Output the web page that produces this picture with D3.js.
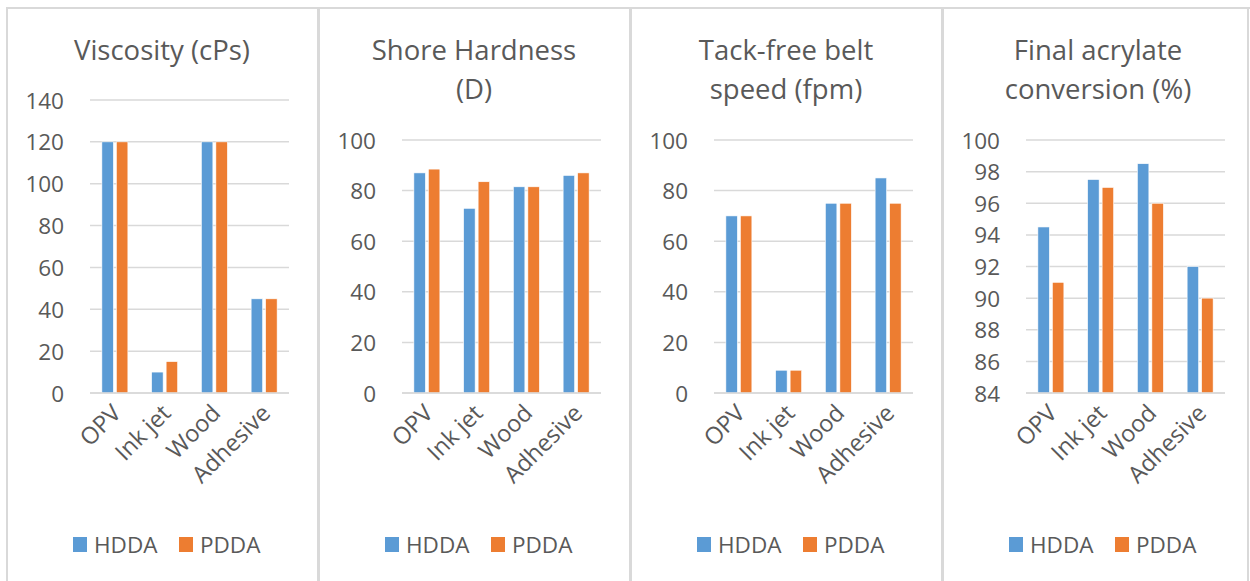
<!DOCTYPE html>
<html>
<head>
<meta charset="utf-8">
<script src="https://cdn.jsdelivr.net/npm/d3@7"></script>
<style>
  html, body { margin: 0; padding: 0; background: #ffffff; }
  svg { display: block; font-family: "Open Sans", "Noto Sans", sans-serif; }
</style>
</head>
<body>
<svg id="chart" width="1250" height="581"></svg>
<script>
// Formulation categories shared by all four panels
const categories = ["OPV", "Ink jet", "Wood", "Adhesive"];
const seriesNames = ["HDDA", "PDDA"];

// Viscosity (cPs)
const viscosityHDDA = [120, 10, 120, 45];
const viscosityPDDA = [120, 15, 120, 45];

// Shore hardness (D)
const hardnessHDDA = [87, 73, 81.5, 86];
const hardnessPDDA = [88.5, 83.5, 81.5, 87];

// Tack-free belt speed (fpm)
const speedHDDA = [70, 9, 75, 85];
const speedPDDA = [70, 9, 75, 75];

// Final acrylate conversion (%)
const conversionHDDA = [94.5, 97.5, 98.5, 92];
const conversionPDDA = [91, 97, 96, 90];

// Axis ticks per panel
const viscosityTicks = [0, 20, 40, 60, 80, 100, 120, 140];
const hardnessTicks = [0, 20, 40, 60, 80, 100];
const speedTicks = [0, 20, 40, 60, 80, 100];
const conversionTicks = [84, 86, 88, 90, 92, 94, 96, 98, 100];

const panels = [
  { title: ["Viscosity (cPs)"], hdda: viscosityHDDA, pdda: viscosityPDDA, ticks: viscosityTicks, top: 100 },
  { title: ["Shore Hardness", "(D)"], hdda: hardnessHDDA, pdda: hardnessPDDA, ticks: hardnessTicks, top: 140 },
  { title: ["Tack-free belt", "speed (fpm)"], hdda: speedHDDA, pdda: speedPDDA, ticks: speedTicks, top: 140 },
  { title: ["Final acrylate", "conversion (%)"], hdda: conversionHDDA, pdda: conversionPDDA, ticks: conversionTicks, top: 140 }
];

const colors = { HDDA: "#5B9BD5", PDDA: "#ED7D31" };
const textColor = "#595959";
const gridColor = "#d9d9d9";
const borderColor = "#d9d9d9";

const svg = d3.select("#chart");

const panelWidth = 312;
const panelLeft = 7;
const plotOffset = 83;      // from panel left edge to plot area
const plotWidth = 199;
const plotBottom = 393;

// Panel frames: top rule and vertical separators
svg.append("line")
  .attr("x1", panelLeft).attr("x2", 1250)
  .attr("y1", 8).attr("y2", 8)
  .attr("stroke", borderColor).attr("stroke-width", 2);

d3.range(5).forEach(i => {
  const x = i === 4 ? 1248 : panelLeft + i * panelWidth - (i === 0 ? 0 : 0.5);
  svg.append("line")
    .attr("x1", x).attr("x2", x)
    .attr("y1", 7).attr("y2", 581)
    .attr("stroke", borderColor).attr("stroke-width", i === 0 || i === 4 ? 2 : 3);
});

panels.forEach((p, i) => {
  const left = panelLeft + i * panelWidth;
  const centerX = left + panelWidth / 2 - 1;
  const x0 = left + plotOffset;

  const g = svg.append("g");

  // Title
  const title = g.append("text")
    .attr("text-anchor", "middle")
    .attr("fill", textColor)
    .style("font-size", "27.5px");
  p.title.forEach((line, k) => {
    title.append("tspan")
      .attr("x", centerX)
      .attr("y", 60 + k * 39)
      .text(line);
  });

  const x = d3.scaleBand()
    .domain(categories)
    .range([x0, x0 + plotWidth]);

  const y = d3.scaleLinear()
    .domain(d3.extent(p.ticks))
    .range([plotBottom, p.top]);

  // Gridlines
  g.append("g")
    .selectAll("line")
    .data(p.ticks)
    .join("line")
    .attr("x1", x0).attr("x2", x0 + plotWidth)
    .attr("y1", d => y(d)).attr("y2", d => y(d))
    .attr("stroke", gridColor)
    .attr("stroke-width", 1.5);

  // Value axis
  const yAxis = g.append("g")
    .attr("transform", `translate(${x0 - 26},0)`)
    .call(d3.axisLeft(y).tickValues(p.ticks).tickSize(0).tickPadding(0).tickFormat(d3.format("d")));
  yAxis.select(".domain").remove();
  yAxis.selectAll("text")
    .attr("fill", textColor)
    .attr("dy", "0.36em")
    .style("font-size", "22.5px")
    .style("font-family", "'Open Sans', sans-serif");

  // Bars
  const barW = 11.5;
  const innerGap = 3;
  const rows = categories.map((c, j) => ({ cat: c, HDDA: p.hdda[j], PDDA: p.pdda[j] }));
  seriesNames.forEach((s, k) => {
    g.append("g")
      .selectAll("rect")
      .data(rows)
      .join("rect")
      .attr("x", d => x(d.cat) + x.bandwidth() / 2 + (k === 0 ? -(barW + innerGap / 2) : innerGap / 2))
      .attr("width", barW)
      .attr("y", d => y(d[s]))
      .attr("height", d => plotBottom - y(d[s]))
      .attr("fill", colors[s])
      .attr("stroke", "#ffffff")
      .attr("stroke-width", 0.6);
  });

  // Category axis baseline
  g.append("line")
    .attr("x1", x0).attr("x2", x0 + plotWidth)
    .attr("y1", plotBottom).attr("y2", plotBottom)
    .attr("stroke", gridColor)
    .attr("stroke-width", 1.5);

  // Category labels, rotated
  g.append("g")
    .selectAll("text")
    .data(categories)
    .join("text")
    .attr("transform", d => `translate(${x(d) + x.bandwidth() / 2 - 4},${plotBottom + 10}) rotate(-45)`)
    .attr("text-anchor", "end")
    .attr("dy", "0.7em")
    .attr("fill", textColor)
    .style("font-size", "23.5px")
    .text(d => d);

  // Legend
  const legend = g.append("g").attr("transform", `translate(${x0 - 17},537)`);
  const items = [
    { name: "HDDA", dx: 0 },
    { name: "PDDA", dx: 106 }
  ];
  items.forEach(it => {
    legend.append("rect")
      .attr("x", it.dx).attr("y", 0)
      .attr("width", 14).attr("height", 15)
      .attr("fill", colors[it.name]);
    legend.append("text")
      .attr("x", it.dx + 21).attr("y", 15.5)
      .attr("fill", textColor)
      .style("font-size", "22.5px")
      .text(it.name);
  });
});
</script>
</body>
</html>
